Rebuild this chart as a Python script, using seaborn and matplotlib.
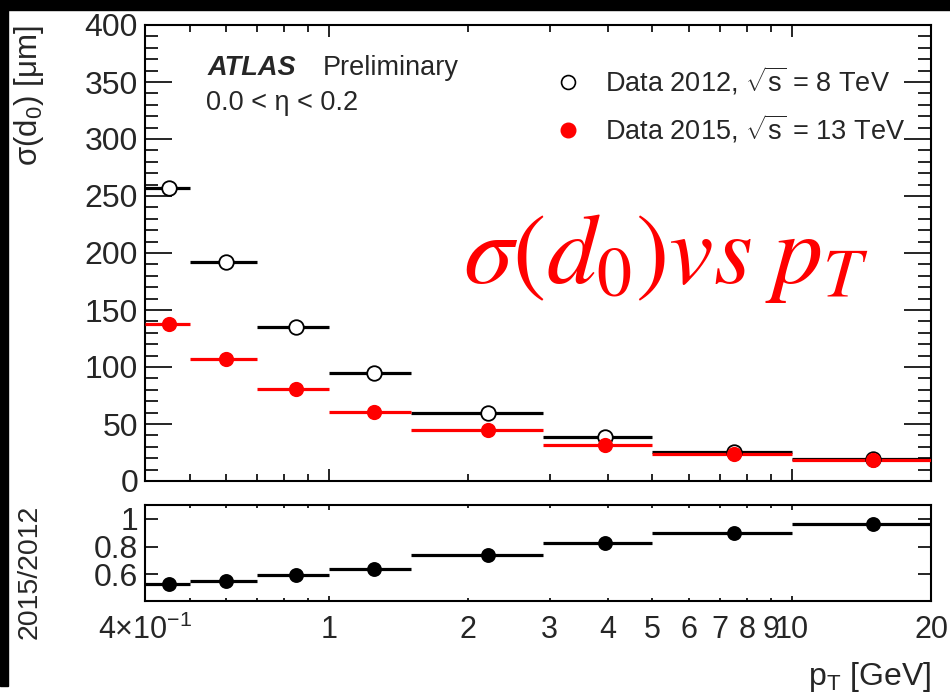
import numpy as np
import pandas as pd
import matplotlib
matplotlib.use("Agg")
import matplotlib.pyplot as plt
import seaborn as sns
from matplotlib.lines import Line2D
from matplotlib.ticker import FixedLocator, FixedFormatter, MultipleLocator

# Data
pt_edges = [0.4, 0.5, 0.7, 1.0, 1.5, 2.9, 5.0, 10.0, 20.0]
pt_mean = [0.45, 0.60, 0.85, 1.25, 2.2, 3.95, 7.5, 15.0]
sigma_2012 = [257, 192, 135, 94.5, 60, 38.3, 25.7, 19.0]
sigma_2015 = [138, 107, 80.4, 60.5, 44.4, 31.3, 23.6, 18.3]
ratio = [0.532, 0.554, 0.593, 0.641, 0.740, 0.824, 0.900, 0.965]
ratio_err = [0.003, 0.003, 0.003, 0.004, 0.004, 0.006, 0.010, 0.03]

x_minor = [0.4, 0.5, 0.6, 0.7, 0.8, 0.9, 2, 3, 4, 5, 6, 7, 8, 9, 20]
x_minor_labels = [r"4×10$^{\mathregular{-1}}$", "", "", "", "", "",
                  "2", "3", "4", "5", "6", "7", "8", "9", "20"]

df = pd.DataFrame({"pt": pt_mean, "s2012": sigma_2012,
                   "s2015": sigma_2015, "ratio": ratio})

sns.set_theme(style="ticks")
plt.rcParams["font.family"] = ["Liberation Sans", "DejaVu Sans"]
plt.rcParams["mathtext.fontset"] = "custom"
plt.rcParams["mathtext.rm"] = "Liberation Sans"
plt.rcParams["mathtext.it"] = "Liberation Sans:italic"
plt.rcParams["mathtext.bf"] = "Liberation Sans:bold"
plt.rcParams["axes.linewidth"] = 1.5
plt.rcParams["axes.edgecolor"] = "black"

W, H = 950, 698
fig = plt.figure(figsize=(W / 100, H / 100), dpi=100)
ax1 = fig.add_axes([145 / W, (H - 481) / H, 786 / W, 456 / H])
ax2 = fig.add_axes([145 / W, (H - 601) / H, 786 / W, 96 / H])

# black strips of the screenshot
fig.add_artist(plt.Rectangle((0, 1 - 10 / H), 1, 10 / H, color="black",
                             transform=fig.transFigure, zorder=0))
fig.add_artist(plt.Rectangle((0, 12 / H), 8 / W, 1, color="black",
                             transform=fig.transFigure, zorder=0))

lo = pt_edges[:-1]
hi = pt_edges[1:]

# main panel
ax1.hlines(df["s2012"], lo, hi, color="black", lw=2.3, zorder=2)
ax1.hlines(df["s2015"], lo, hi, color="red", lw=2.3, zorder=3)
sns.scatterplot(data=df, x="pt", y="s2012", ax=ax1, s=110, marker="o",
                facecolor="white", edgecolor="black", linewidth=1.3, zorder=4)
sns.scatterplot(data=df, x="pt", y="s2015", ax=ax1, s=120, marker="o",
                color="red", edgecolor="red", linewidth=0, zorder=5)

ax1.set_xscale("log")
ax1.set_xlim(0.4, 20)
ax1.set_ylim(0, 400)
ax1.set_xlabel("")
ax1.set_ylabel("")
ax1.yaxis.set_major_locator(MultipleLocator(50))
ax1.yaxis.set_minor_locator(MultipleLocator(10))
ax1.xaxis.set_major_locator(FixedLocator([1, 10]))
ax1.xaxis.set_minor_locator(FixedLocator(x_minor))
ax1.tick_params(which="both", direction="in", top=True, right=True,
                labelbottom=False, width=1.2, color="black")
ax1.tick_params(axis="y", which="major", length=19.5, labelsize=23, pad=5)
ax1.tick_params(axis="y", which="minor", length=9.5)
ax1.tick_params(axis="x", which="major", length=8.6)
ax1.tick_params(axis="x", which="minor", length=5)

ax1.text(0.079, 0.905, "ATLAS", transform=ax1.transAxes, fontsize=19.5,
         fontweight="bold", fontstyle="italic", va="center", ha="left")
ax1.text(0.2265, 0.905, "Preliminary", transform=ax1.transAxes,
         fontsize=19.5, va="center", ha="left")
ax1.text(0.077, 0.83, "0.0 < η < 0.2", transform=ax1.transAxes,
         fontsize=19.5, va="center", ha="left")

handles = [Line2D([], [], ls="none", marker="o", ms=10, mfc="white",
                  mec="black", mew=1.2),
           Line2D([], [], ls="none", marker="o", ms=10.5, mfc="red",
                  mec="red")]
labels = [r"Data 2012, $\sqrt{\mathrm{s}}$ = 8 TeV",
          r"Data 2015, $\sqrt{\mathrm{s}}$ = 13 TeV"]
ax1.legend(handles, labels, loc="upper left", bbox_to_anchor=(0.521, 0.912),
           frameon=False, fontsize=19.5, handlelength=1.0,
           handletextpad=0.85, labelspacing=0.55, borderpad=0,
           borderaxespad=0)

ax1.text(0.405, 0.49, r"$\sigma(d_0)vs\;p_T$", transform=ax1.transAxes,
         fontsize=72, color="red", math_fontfamily="stix",
         va="center", ha="left")

# ratio panel
ax2.hlines(df["ratio"], lo, hi, color="black", lw=2.3, zorder=2)
ax2.errorbar(pt_mean, ratio, yerr=ratio_err, fmt="none", ecolor="black",
             elinewidth=2, zorder=3)
sns.scatterplot(data=df, x="pt", y="ratio", ax=ax2, s=115, marker="o",
                color="black", linewidth=0, zorder=4)
ax2.set_xscale("log")
ax2.set_xlim(0.4, 20)
ax2.set_ylim(0.407, 1.101)
ax2.set_xlabel("")
ax2.set_ylabel("")
ax2.yaxis.set_major_locator(FixedLocator([0.6, 0.8, 1.0]))
ax2.yaxis.set_major_formatter(FixedFormatter(["0.6", "0.8", "1"]))
ax2.yaxis.set_minor_locator(FixedLocator([]))
ax2.xaxis.set_major_locator(FixedLocator([1, 10]))
ax2.xaxis.set_major_formatter(FixedFormatter(["1", "10"]))
ax2.xaxis.set_minor_locator(FixedLocator(x_minor))
ax2.xaxis.set_minor_formatter(FixedFormatter(x_minor_labels))
ax2.tick_params(which="both", direction="in", top=True, right=True,
                width=1.2, color="black")
ax2.tick_params(axis="y", which="major", length=9.4, labelsize=23, pad=5)
ax2.tick_params(axis="x", which="major", length=3.6, labelsize=22, pad=10)
ax2.tick_params(axis="x", which="minor", length=2.2, labelsize=22, pad=10)

# axis titles
fig.text(29 / W, 1 - 25 / H, "σ(d$_\mathregular{0}$) [μm]", rotation=90,
         ha="center", va="top", fontsize=22.5)
fig.text(30 / W, 1 - 505 / H, "2015/2012", rotation=90,
         ha="center", va="top", fontsize=20.5)
fig.text(931 / W, 1 - 677 / H, r"$\mathregular{p_T}$ [GeV]", ha="right",
         va="center", fontsize=23)

fig.savefig("out.png", dpi=100)
